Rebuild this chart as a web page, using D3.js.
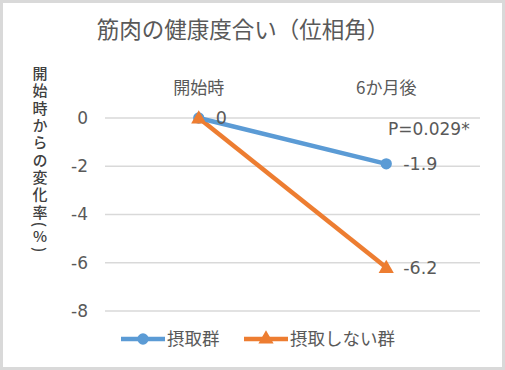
<!DOCTYPE html>
<html>
<head>
<meta charset="utf-8">
<script src="https://cdn.jsdelivr.net/npm/d3@7"></script>
<style>
  body { margin: 0; background: #fff; }
  svg text { font-family: "Noto Sans CJK JP", "Noto Sans", sans-serif; fill: #595959; }
  svg text.num { font-family: "DejaVu Sans", sans-serif; }
</style>
</head>
<body>
<div id="chart"></div>
<script>
// chart data
var categories = ["開始時", "6か月後"];
var seriesNames = ["摂取群", "摂取しない群"];
var intakeValues = [0, -1.9];
var noIntakeValues = [0, -6.2];
var yTicks = [0, -2, -4, -6, -8];
var titleText = "筋肉の健康度合い（位相角）";
var yTitle = ["開始時からの変化率(", "%", ")"];
var pNote = "P=0.029*";

var width = 505, height = 370;
var margin = {top: 118, left: 105, right: 25, bottom: 59};

var svg = d3.select("#chart").append("svg").attr("width", width).attr("height", height);

// outer frame
svg.append("rect").attr("x", 1.5).attr("y", 1.5).attr("width", width - 3).attr("height", height - 3)
  .attr("fill", "#fff").attr("stroke", "#d9d9d9").attr("stroke-width", 3);

var x = d3.scaleBand().domain(categories).range([margin.left, width - margin.right]);
var y = d3.scaleLinear().domain([0, -8]).range([margin.top, height - margin.bottom]);

// gridlines
svg.append("g").selectAll("line").data(yTicks).enter().append("line")
  .attr("x1", margin.left).attr("x2", width - margin.right)
  .attr("y1", function(d){ return y(d); }).attr("y2", function(d){ return y(d); })
  .attr("stroke", "#d9d9d9").attr("stroke-width", 1.3);

// y tick labels
svg.append("g").selectAll("text").data(yTicks).enter().append("text").attr("class", "num")
  .attr("x", 88).attr("y", function(d){ return y(d); }).attr("dy", "0.35em")
  .attr("text-anchor", "end").style("font-size", "17px").text(function(d){ return d; });

// category labels on top
svg.append("g").selectAll("text").data(categories).enter().append("text")
  .attr("x", function(d){ return x(d) + x.bandwidth() / 2; }).attr("y", 88).attr("dy", "0.35em")
  .attr("text-anchor", "middle").style("font-size", "17px").text(function(d){ return d; });

// title
svg.append("text").attr("x", 243).attr("y", 30).attr("dy", "0.35em").attr("text-anchor", "middle")
  .style("font-size", "22.5px").text(titleText);

// vertical y title
var yt = svg.append("text").attr("x", 40).attr("y", 66)
  .style("writing-mode", "vertical-rl").style("font-size", "15px").style("font-weight", "500")
  .style("letter-spacing", "2.3px").style("fill", "#404040");
yt.selectAll("tspan").data(yTitle).enter().append("tspan")
  .style("text-orientation", function(d){ return d === "%" ? "upright" : "mixed"; })
  .text(function(d){ return d; });

var cx = function(i){ return x(categories[i]) + x.bandwidth() / 2; };
var line = d3.line().x(function(d, i){ return cx(i); }).y(function(d){ return y(d); });

// orange series
svg.append("path").datum(noIntakeValues).attr("d", line).attr("fill", "none")
  .attr("stroke", "#ed7d31").attr("stroke-width", 4.5);
// blue series
svg.append("path").datum(intakeValues).attr("d", line).attr("fill", "none")
  .attr("stroke", "#5b9bd5").attr("stroke-width", 4.5);

var tri = d3.symbol().type(d3.symbolTriangle).size(100);
var circ = d3.symbol().type(d3.symbolCircle).size(100);

svg.append("g").selectAll("path").data(intakeValues).enter().append("path")
  .attr("d", circ).attr("fill", "#5b9bd5")
  .attr("transform", function(d, i){ return "translate(" + cx(i) + "," + y(d) + ")"; });
svg.append("g").selectAll("path").data(noIntakeValues).enter().append("path")
  .attr("d", tri).attr("fill", "#ed7d31")
  .attr("transform", function(d, i){ return "translate(" + cx(i) + "," + (y(d) + 1) + ")"; });

// data labels
var labels = [[0, intakeValues[0]], [1, intakeValues[1]], [1, noIntakeValues[1]]];
svg.append("g").selectAll("text").data(labels).enter().append("text").attr("class", "num")
  .attr("x", function(d){ return cx(d[0]) + 17; }).attr("y", function(d){ return y(d[1]); }).attr("dy", "0.35em")
  .style("font-size", "17.5px").text(function(d){ return d[1]; });

// p-value note
svg.append("text").attr("class", "num").attr("x", 388).attr("y", 129).attr("dy", "0.35em")
  .style("font-size", "17px").text(pNote);

// legend
var legend = [{name: seriesNames[0], color: "#5b9bd5", sym: circ, x: 121},
              {name: seriesNames[1], color: "#ed7d31", sym: tri, x: 244}];
var lg = svg.append("g").selectAll("g").data(legend).enter().append("g")
  .attr("transform", function(d){ return "translate(" + d.x + ",339)"; });
lg.append("line").attr("x1", 0).attr("x2", 44).attr("stroke", function(d){ return d.color; }).attr("stroke-width", 4.5);
lg.append("path").attr("d", function(d){ return d.sym(); }).attr("fill", function(d){ return d.color; })
  .attr("transform", "translate(22,0)");
lg.append("text").attr("x", 46).attr("dy", "0.35em").style("font-size", "17.5px").text(function(d){ return d.name; });
</script>
</body>
</html>
